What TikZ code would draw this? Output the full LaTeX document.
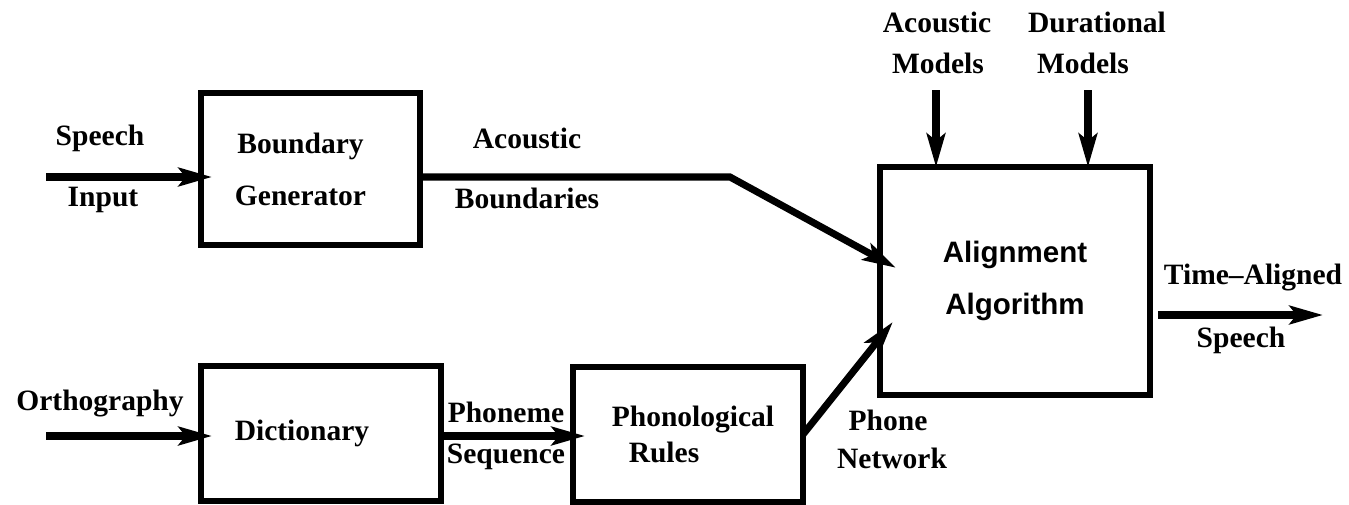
\documentclass[tikz,border=0pt]{standalone}
\usepackage{fontspec}
\setmainfont{Liberation Serif}
\newfontfamily\hvfont{Liberation Sans}
\usetikzlibrary{arrows.meta,calc}
\newcommand\lblfont{\bfseries\fontsize{16.8}{20}\selectfont}
\begin{document}
\begin{tikzpicture}[x=0.02cm,y=-0.02cm,
  box/.style={draw,line width=3.8pt,inner sep=0pt,outer sep=0pt,align=center},
  lbl/.style={inner sep=0pt,font=\lblfont},
  arr/.style={line width=4pt,-{Stealth[length=19pt,width=10.5pt,inset=4pt]}}]
\useasboundingbox (0,0) rectangle (1349,504);
% boxes
\node[box,minimum width=4.38cm,minimum height=3.04cm,
  font=\bfseries\fontsize{16.8}{29.5}\selectfont] (bg) at (310.5,169)
  {Boundary\hspace*{0.4cm}\\Generator\hspace*{0.4cm}};
\node[box,minimum width=5.4cm,minimum height=4.56cm,
  font=\hvfont\bfseries\fontsize{16.8}{30}\selectfont] (al) at (1015,281)
  {Alignment\\Algorithm};
\node[box,minimum width=4.8cm,minimum height=2.7cm,
  font=\lblfont] (dict) at (321,433.5) {Dictionary\hspace*{0.76cm}};
\node[box,minimum width=4.6cm,minimum height=2.7cm,
  font=\bfseries\fontsize{16.8}{20}\selectfont] (pr) at (688,434.5)
  {\hspace*{0.2cm}Phonological\\Rules\hspace*{0.96cm}};
% labels
\node[lbl] (sp1) at (100,138) {Speech};
\node[lbl] (sp2) at (103,200) {Input};
\node[lbl] (ortho) at (100,404) {Orthography};
\node[lbl] (ab1) at (527,138) {Acoustic};
\node[lbl] (ab2) at (527,198) {Boundaries};
\node[lbl] (am1) at (937,22) {Acoustic};
\node[lbl] (am2) at (938,63) {Models};
\node[lbl] (dm1) at (1097,22) {Durational};
\node[lbl] (dm2) at (1083,63) {Models};
\node[lbl] (ta1) at (1253,278) {Time–Aligned};
\node[lbl] (ta2) at (1241,340) {Speech};
\node[lbl] (ph1) at (506,412) {Phoneme};
\node[lbl] (ph2) at (506,457) {Sequence};
\node[lbl] (pn1) at (888,420) {Phone};
\node[lbl] (pn2) at (892,458) {Network};
% free ends
\coordinate (spin) at (46,177);
\coordinate (orin) at (46,436);
\coordinate (amin) at (936,90);
\coordinate (dmin) at (1088,90);
\coordinate (bend) at (730,177);
\coordinate (outend) at (1323,315);
% connectors
\draw[arr,shorten >=-0.22cm] (spin) -- (bg.west |- spin);
\draw[arr,shorten >=-0.36cm] (bg.east |- bend) -- (bend) -- ($(al.south west)!0.596!(al.north west)$);
\draw[arr] (amin) -- (al.north -| amin);
\draw[arr] (dmin) -- (al.north -| dmin);
\draw[arr,shorten <=0.16cm] (al.east |- outend) -- (outend);
\draw[arr,shorten >=-0.22cm] (orin) -- (dict.west |- orin);
\draw[arr,shorten >=-0.24cm] (dict.east |- orin) -- (pr.west |- orin);
\draw[arr,shorten >=-0.41cm] (pr.east) -- ($(al.south west)!0.25!(al.north west)$);
\end{tikzpicture}
\end{document}
